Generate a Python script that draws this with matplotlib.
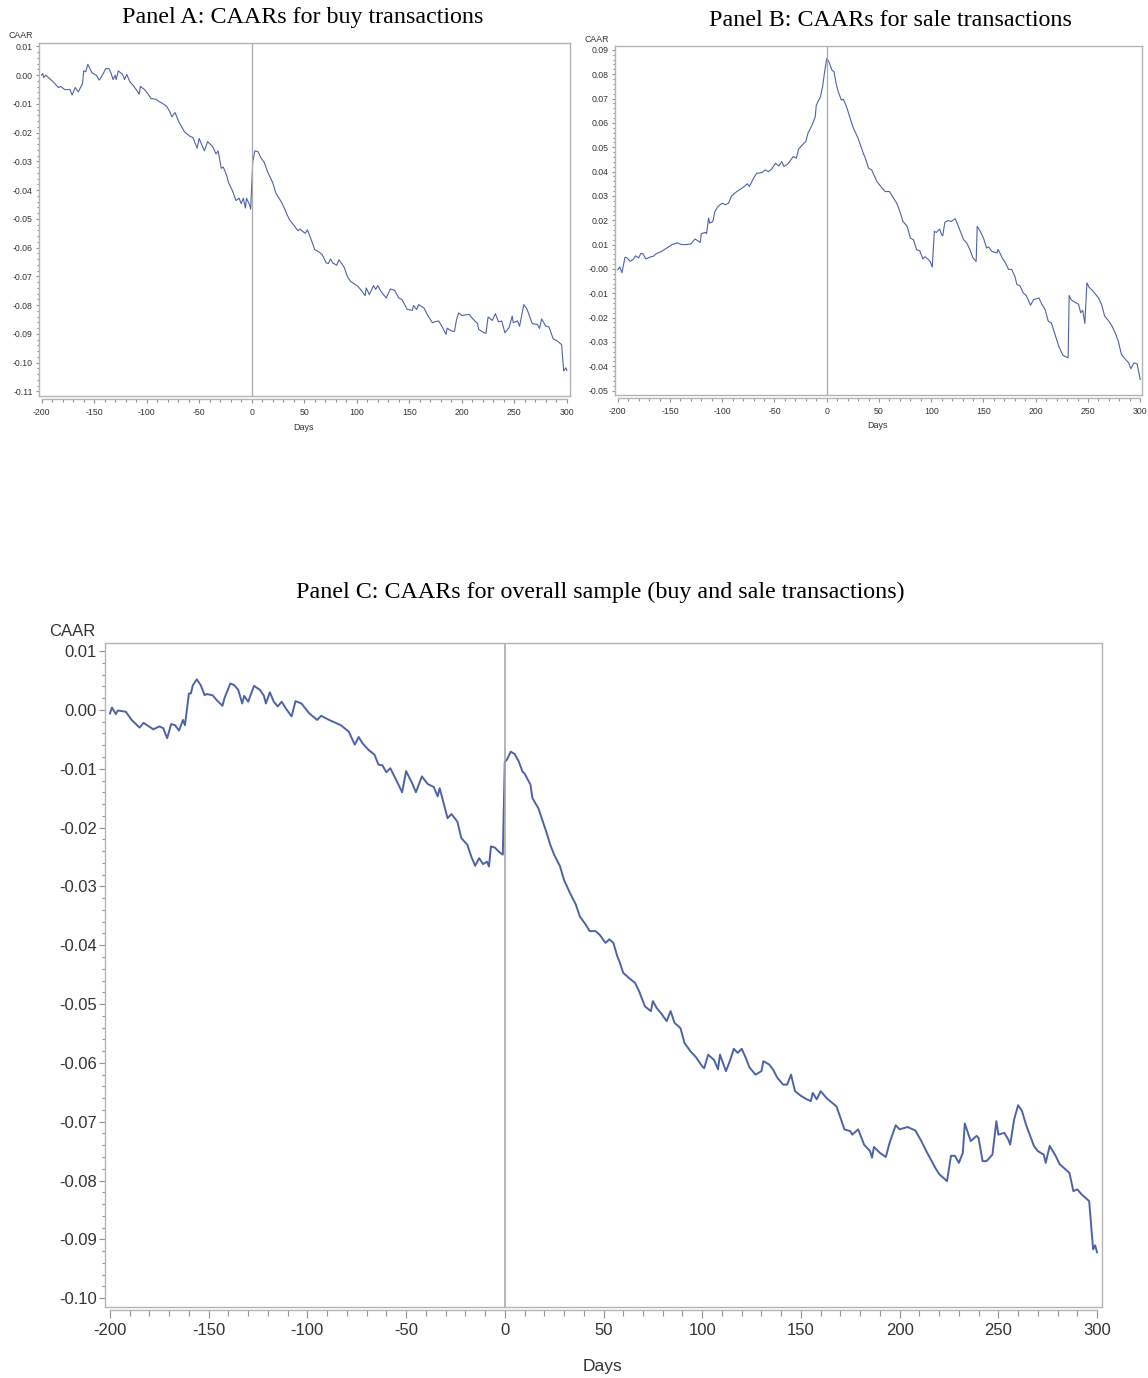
"""
CAAR event-study panels (buy / sale / overall)
"""
import numpy as np
import matplotlib
matplotlib.use('Agg')
import matplotlib.pyplot as plt
from matplotlib.ticker import MultipleLocator, FormatStrFormatter

plt.rcParams['axes.unicode_minus'] = False
plt.rcParams['font.family'] = ['Liberation Sans', 'DejaVu Sans']

# Panel A: buy transactions (day, CAAR)
days_a = [-200, -199, -198, -196, -189, -184, -182, -178, -173, -171, -168, -165, -163, -161,
          -160, -158, -156, -154, -152, -148, -145, -141, -139, -136, -134, -132, -130, -129,
          -127, -123, -121, -119, -116, -113, -110, -107, -106, -102, -99, -96, -91, -88, -85,
          -81, -78, -76, -73, -69, -64, -59, -56, -52, -50, -47, -45, -42, -37, -34, -32, -29,
          -27, -24, -22, -18, -15, -12, -10, -8, -6, -5, -2, -1, 1, 3, 6, 9, 12, 15, 20, 23, 28,
          31, 33, 36, 41, 44, 46, 48, 51, 53, 56, 60, 64, 67, 71, 73, 75, 77, 81, 83, 88, 91, 94,
          101, 105, 108, 109, 112, 116, 118, 120, 123, 128, 132, 136, 140, 143, 148, 153, 154,
          157, 159, 164, 167, 172, 175, 178, 181, 185, 186, 191, 193, 195, 197, 200, 207, 211,
          215, 216, 221, 223, 225, 229, 232, 235, 238, 241, 245, 248, 249, 253, 255, 259, 262,
          267, 272, 274, 276, 280, 283, 287, 291, 295, 297, 299, 300]
caar_a = [0.0000, 0.0006, -0.0008, 0.0000, -0.0023, -0.0043, -0.0039, -0.0050, -0.0050, -0.0069,
          -0.0043, -0.0058, -0.0043, -0.0029, 0.0015, 0.0012, 0.0038, 0.0023, 0.0008, 0.0000,
          -0.0017, 0.0008, 0.0023, 0.0023, 0.0008, -0.0015, 0.0000, -0.0015, 0.0015, 0.0003,
          -0.0015, 0.0003, -0.0023, -0.0035, -0.0050, -0.0066, -0.0039, -0.0050, -0.0064,
          -0.0081, -0.0084, -0.0092, -0.0098, -0.0108, -0.0127, -0.0145, -0.0130, -0.0165,
          -0.0197, -0.0212, -0.0217, -0.0254, -0.0220, -0.0247, -0.0263, -0.0231, -0.0249,
          -0.0274, -0.0263, -0.0324, -0.0320, -0.0347, -0.0374, -0.0405, -0.0436, -0.0428,
          -0.0447, -0.0428, -0.0462, -0.0428, -0.0451, -0.0466, -0.0301, -0.0263, -0.0266,
          -0.0289, -0.0304, -0.0335, -0.0374, -0.0410, -0.0440, -0.0462, -0.0480, -0.0503,
          -0.0526, -0.0541, -0.0535, -0.0542, -0.0550, -0.0538, -0.0566, -0.0607, -0.0615,
          -0.0624, -0.0653, -0.0655, -0.0639, -0.0653, -0.0661, -0.0642, -0.0668, -0.0700,
          -0.0717, -0.0734, -0.0752, -0.0767, -0.0740, -0.0763, -0.0732, -0.0745, -0.0732,
          -0.0752, -0.0775, -0.0744, -0.0748, -0.0775, -0.0780, -0.0815, -0.0818, -0.0801,
          -0.0815, -0.0798, -0.0810, -0.0832, -0.0861, -0.0857, -0.0855, -0.0873, -0.0902,
          -0.0880, -0.0891, -0.0891, -0.0850, -0.0827, -0.0836, -0.0832, -0.0850, -0.0864,
          -0.0884, -0.0896, -0.0898, -0.0841, -0.0853, -0.0830, -0.0858, -0.0855, -0.0896,
          -0.0878, -0.0838, -0.0861, -0.0855, -0.0873, -0.0798, -0.0813, -0.0864, -0.0867,
          -0.0881, -0.0848, -0.0873, -0.0876, -0.0917, -0.0925, -0.0937, -0.1029, -0.1018,
          -0.1027]

# Panel B: sale transactions
days_b = [-200, -198, -196, -193, -191, -188, -185, -183, -180, -178, -176, -173, -169, -166,
          -163, -158, -153, -148, -143, -139, -134, -130, -126, -121, -120, -116, -115, -113,
          -112, -109, -107, -104, -100, -97, -94, -91, -86, -81, -78, -76, -74, -70, -67, -62,
          -59, -56, -53, -49, -46, -43, -41, -37, -32, -29, -27, -22, -20, -18, -14, -11, -10,
          -6, -4, -2, 0, 2, 5, 7, 9, 11, 14, 16, 19, 22, 25, 30, 35, 37, 40, 43, 48, 53, 56, 60,
          64, 67, 70, 73, 77, 80, 83, 86, 89, 92, 94, 97, 99, 101, 103, 105, 108, 110, 111, 113,
          116, 119, 123, 126, 131, 134, 137, 140, 143, 144, 147, 150, 153, 155, 158, 163, 164,
          168, 171, 174, 177, 180, 182, 185, 188, 191, 195, 198, 203, 206, 209, 212, 215, 219,
          222, 226, 231, 232, 234, 238, 241, 243, 245, 247, 249, 251, 255, 260, 263, 266, 270,
          273, 276, 279, 282, 286, 289, 291, 294, 297, 300]
caar_b = [-0.0003, 0.0008, -0.0016, 0.0048, 0.0045, 0.0031, 0.0040, 0.0054, 0.0045, 0.0063,
          0.0063, 0.0041, 0.0049, 0.0052, 0.0063, 0.0072, 0.0086, 0.0100, 0.0107, 0.0100,
          0.0100, 0.0103, 0.0123, 0.0109, 0.0145, 0.0150, 0.0145, 0.0209, 0.0188, 0.0195,
          0.0236, 0.0257, 0.0270, 0.0264, 0.0270, 0.0300, 0.0318, 0.0332, 0.0342, 0.0350,
          0.0339, 0.0373, 0.0393, 0.0396, 0.0407, 0.0400, 0.0409, 0.0434, 0.0423, 0.0441,
          0.0421, 0.0432, 0.0462, 0.0455, 0.0492, 0.0516, 0.0523, 0.0557, 0.0591, 0.0625,
          0.0673, 0.0707, 0.0748, 0.0810, 0.0865, 0.0852, 0.0817, 0.0810, 0.0762, 0.0728,
          0.0694, 0.0697, 0.0666, 0.0625, 0.0584, 0.0537, 0.0475, 0.0455, 0.0414, 0.0407,
          0.0359, 0.0332, 0.0318, 0.0318, 0.0291, 0.0270, 0.0236, 0.0195, 0.0175, 0.0127,
          0.0120, 0.0079, 0.0075, 0.0041, 0.0050, 0.0040, 0.0030, 0.0008, 0.0154, 0.0150,
          0.0164, 0.0140, 0.0136, 0.0191, 0.0199, 0.0195, 0.0206, 0.0175, 0.0120, 0.0107,
          0.0079, 0.0045, 0.0031, 0.0175, 0.0154, 0.0127, 0.0086, 0.0090, 0.0072, 0.0066,
          0.0080, 0.0045, 0.0025, -0.0002, -0.0002, -0.0030, -0.0064, -0.0070, -0.0098,
          -0.0110, -0.0149, -0.0126, -0.0119, -0.0146, -0.0167, -0.0215, -0.0222, -0.0276,
          -0.0317, -0.0355, -0.0365, -0.0109, -0.0127, -0.0138, -0.0145, -0.0180, -0.0170,
          -0.0224, -0.0057, -0.0075, -0.0092, -0.0119, -0.0146, -0.0194, -0.0215, -0.0235,
          -0.0262, -0.0297, -0.0351, -0.0372, -0.0386, -0.0410, -0.0386, -0.0390, -0.0454]

# Panel C: overall sample
days_c = [-200, -199, -197, -196, -192, -189, -185, -183, -178, -175, -173, -171, -169, -167,
          -165, -163, -162, -160, -159, -158, -156, -154, -152, -151, -148, -146, -143, -142,
          -139, -137, -135, -133, -132, -130, -127, -124, -122, -121, -119, -117, -115, -113,
          -111, -108, -106, -103, -99, -95, -93, -89, -85, -83, -79, -76, -74, -72, -69, -66,
          -64, -62, -60, -58, -55, -52, -50, -47, -45, -42, -39, -36, -34, -33, -31, -29, -27,
          -24, -22, -19, -17, -15, -13, -11, -9, -8, -7, -5, -3, -1, 0, 1, 3, 5, 7, 9, 10, 13,
          14, 17, 19, 21, 23, 25, 28, 30, 33, 36, 38, 41, 43, 46, 48, 51, 53, 55, 57, 58, 60,
          63, 66, 68, 71, 74, 75, 77, 79, 82, 84, 86, 89, 91, 94, 97, 100, 101, 103, 106, 108,
          109, 112, 114, 116, 118, 120, 122, 124, 127, 130, 131, 134, 136, 138, 141, 143, 145,
          147, 150, 153, 155, 156, 158, 160, 163, 168, 170, 172, 175, 176, 179, 182, 185, 186,
          187, 190, 193, 195, 198, 200, 204, 208, 211, 214, 218, 220, 224, 226, 228, 230, 232,
          233, 236, 239, 240, 242, 244, 247, 249, 250, 253, 255, 256, 258, 260, 262, 264, 268,
          270, 273, 274, 276, 279, 281, 283, 286, 288, 290, 292, 296, 298, 299, 300]
caar_c = [-0.0006, 0.0004, -0.0007, -0.0001, -0.0003, -0.0017, -0.0030, -0.0022, -0.0033,
          -0.0028, -0.0031, -0.0048, -0.0024, -0.0026, -0.0035, -0.0017, -0.0026, 0.0028,
          0.0028, 0.0042, 0.0052, 0.0042, 0.0025, 0.0027, 0.0025, 0.0017, 0.0007, 0.0020,
          0.0045, 0.0042, 0.0034, 0.0011, 0.0024, 0.0014, 0.0041, 0.0034, 0.0024, 0.0011,
          0.0030, 0.0014, 0.0006, 0.0014, 0.0003, -0.0011, 0.0015, 0.0011, -0.0006, -0.0017,
          -0.0010, -0.0017, -0.0023, -0.0026, -0.0037, -0.0059, -0.0046, -0.0057, -0.0068,
          -0.0076, -0.0093, -0.0094, -0.0106, -0.0099, -0.0119, -0.0140, -0.0104, -0.0124,
          -0.0140, -0.0113, -0.0126, -0.0131, -0.0147, -0.0133, -0.0158, -0.0184, -0.0177,
          -0.0190, -0.0218, -0.0229, -0.0249, -0.0265, -0.0252, -0.0262, -0.0258, -0.0266,
          -0.0232, -0.0234, -0.0241, -0.0246, -0.0088, -0.0085, -0.0071, -0.0075, -0.0087,
          -0.0105, -0.0108, -0.0127, -0.0150, -0.0167, -0.0187, -0.0207, -0.0229, -0.0246,
          -0.0266, -0.0289, -0.0311, -0.0331, -0.0351, -0.0365, -0.0376, -0.0376, -0.0382,
          -0.0396, -0.0390, -0.0396, -0.0419, -0.0427, -0.0447, -0.0456, -0.0464, -0.0478,
          -0.0504, -0.0512, -0.0495, -0.0507, -0.0515, -0.0529, -0.0512, -0.0532, -0.0541,
          -0.0566, -0.0580, -0.0591, -0.0606, -0.0609, -0.0586, -0.0595, -0.0611, -0.0586,
          -0.0614, -0.0597, -0.0576, -0.0583, -0.0576, -0.0591, -0.0608, -0.0620, -0.0614,
          -0.0597, -0.0603, -0.0612, -0.0625, -0.0637, -0.0637, -0.0620, -0.0648, -0.0656,
          -0.0662, -0.0665, -0.0651, -0.0662, -0.0648, -0.0660, -0.0674, -0.0693, -0.0713,
          -0.0716, -0.0722, -0.0713, -0.0739, -0.0750, -0.0761, -0.0743, -0.0753, -0.0760,
          -0.0735, -0.0706, -0.0713, -0.0709, -0.0715, -0.0733, -0.0753, -0.0778, -0.0789,
          -0.0801, -0.0758, -0.0758, -0.0770, -0.0753, -0.0703, -0.0733, -0.0724, -0.0728,
          -0.0767, -0.0767, -0.0756, -0.0699, -0.0722, -0.0719, -0.0730, -0.0739, -0.0696,
          -0.0672, -0.0682, -0.0705, -0.0741, -0.0750, -0.0756, -0.0770, -0.0741, -0.0758,
          -0.0772, -0.0778, -0.0787, -0.0818, -0.0815, -0.0823, -0.0835, -0.0917, -0.0910,
          -0.0922]

titles = ["Panel A: CAARs for buy transactions",
          "Panel B: CAARs for sale transactions",
          "Panel C: CAARs for overall sample (buy and sale transactions)"]

W, H = 1148, 1378
LINE_COLOR = '#4f62a8'
FRAME_COLOR = '#b4b4b4'


def px_axes(fig, left, top, right, bottom):
    """axes from pixel box (origin top-left)"""
    return fig.add_axes([left / W, 1 - bottom / H, (right - left) / W, (bottom - top) / H])


def style_axes(ax, xlim, ylim, fs, lw, tick_major, tick_minor, ylen, ylen_minor):
    ax.set_xlim(*xlim)
    ax.set_ylim(*ylim)
    ax.xaxis.set_major_locator(MultipleLocator(50))
    ax.xaxis.set_minor_locator(MultipleLocator(10))
    ax.yaxis.set_major_locator(MultipleLocator(0.01))
    ax.yaxis.set_minor_locator(MultipleLocator(0.002))
    ax.yaxis.set_major_formatter(FormatStrFormatter('%.2f'))
    for s in ax.spines.values():
        s.set_color(FRAME_COLOR)
        s.set_linewidth(1.0)
    # SAS-style x axis, slightly detached from the frame
    ax.spines['bottom'].set_position(('outward', 2.5))
    ax.spines['bottom'].set_bounds(-200, 300)
    ax.plot([0, 1], [0, 0], transform=ax.transAxes, color=FRAME_COLOR, lw=1.0, clip_on=False)
    ax.tick_params(axis='x', which='major', length=tick_major, width=0.8, color='#909090',
                   labelsize=fs, pad=3)
    ax.tick_params(axis='x', which='minor', length=tick_minor, width=0.8, color='#909090')
    ax.tick_params(axis='y', which='major', length=ylen, width=0.8, color='#909090',
                   labelsize=fs, pad=2)
    ax.tick_params(axis='y', which='minor', length=ylen_minor, width=0.8, color='#909090')
    ax.tick_params(labelcolor='#333333')
    ax.axvline(0, color='#a8a8a8', lw=lw)


fig = plt.figure(figsize=(W / 100, H / 100), dpi=100)

# Panel A
ax_a = px_axes(fig, 39, 43, 570, 396)
ax_a.plot(days_a, caar_a, color=LINE_COLOR, lw=0.8)
style_axes(ax_a, (-202.5, 303), (-0.1116, 0.0112), 6.3, 0.9, 3, 2, 2.5, 1.3)
fig.text(303 / W, 1 - 18 / H, titles[0], ha='center', va='center',
         family='Liberation Serif', fontsize=17.3)
fig.text(33 / W, 1 - 36 / H, 'CAAR', ha='right', va='center', fontsize=6.3, color='#333333')
fig.text(304 / W, 1 - 427 / H, 'Days', ha='center', va='center', fontsize=6.5, color='#333333')

# Panel B
ax_b = px_axes(fig, 615, 46, 1142, 395)
ax_b.plot(days_b, caar_b, color=LINE_COLOR, lw=0.8)
style_axes(ax_b, (-202.6, 301.7), (-0.0518, 0.0916), 6.3, 0.9, 3, 2, 2.5, 1.3)
fig.text(890 / W, 1 - 20 / H, titles[1], ha='center', va='center',
         family='Liberation Serif', fontsize=17.3)
fig.text(609 / W, 1 - 40 / H, 'CAAR', ha='right', va='center', fontsize=6.3, color='#333333')
fig.text(877 / W, 1 - 426 / H, 'Days', ha='center', va='center', fontsize=6.5, color='#333333')

# Panel C
ax_c = px_axes(fig, 105, 643, 1102, 1307)
ax_c.plot(days_c, caar_c, color=LINE_COLOR, lw=1.4)
style_axes(ax_c, (-202.5, 302.5), (-0.1015, 0.01138), 12, 1.2, 6, 4, 4, 2)
fig.text(600 / W, 1 - 592 / H, titles[2], ha='center', va='center',
         family='Liberation Serif', fontsize=17.3)
fig.text(95 / W, 1 - 632 / H, 'CAAR', ha='right', va='center', fontsize=12, color='#333333')
fig.text(602 / W, 1 - 1366 / H, 'Days', ha='center', va='center', fontsize=12.5, color='#333333')

plt.savefig('out.png', dpi=100)
plt.close(fig)
